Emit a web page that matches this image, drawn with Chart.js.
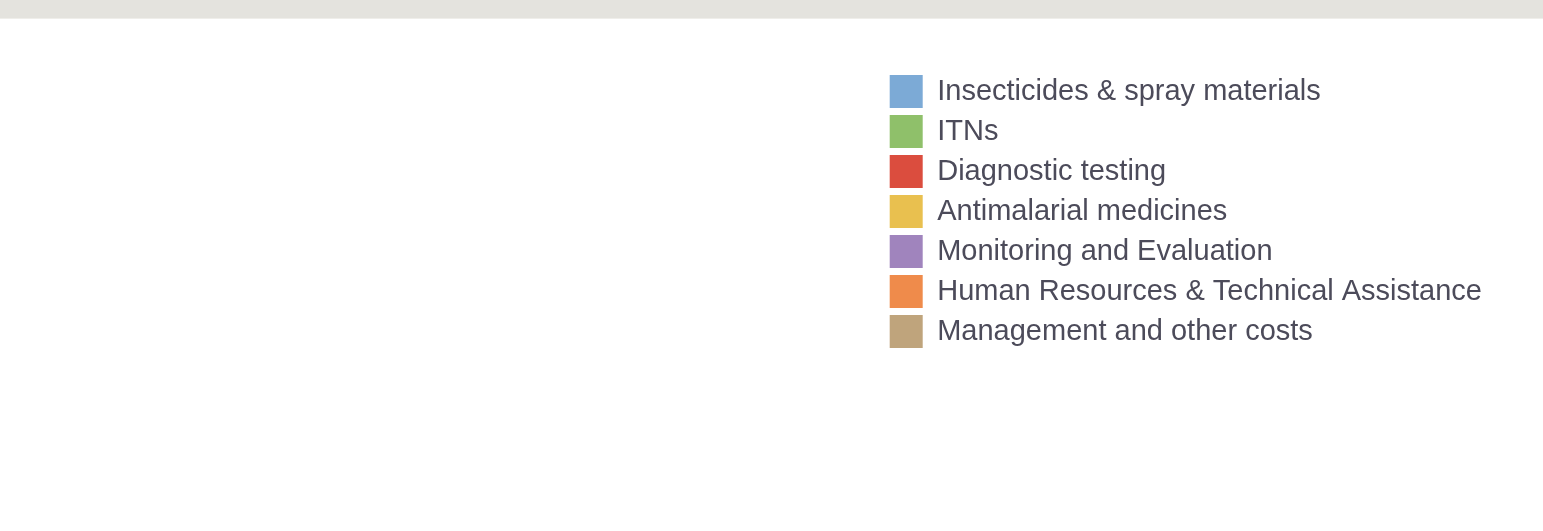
<!DOCTYPE html>
<html>
<head>
<meta charset="utf-8">
<script src="https://cdn.jsdelivr.net/npm/chart.js@4/dist/chart.umd.min.js"></script>
<style>
  html, body { margin: 0; padding: 0; background: #fff; }
  .topbar { height: 18px; background: #e4e3de; border-bottom: 1px solid #efeeea; }
  .wrap { position: relative; width: 1543px; height: 512px; }
</style>
</head>
<body>
<div class="topbar"></div>
<div class="wrap"><canvas id="costChart"></canvas></div>
<script>
/*------------------------------------
* Data
------------------------------------ */
var categories = [
  "Insecticides & spray materials",
  "ITNs",
  "Diagnostic testing",
  "Antimalarial medicines",
  "Monitoring and Evaluation",
  "Human Resources & Technical Assistance",
  "Management and other costs"
];
// the pie itself shows nothing, only the legend
var values = [0, 0, 0, 0, 0, 0, 0];
var colors = ["#7caad6", "#8fc06a", "#db4d3e", "#e9c04f", "#a084bd", "#ef8b4b", "#bfa47c"];

/*------------------------------------
* Chart
------------------------------------ */
var canvas = document.getElementById("costChart");
if (canvas) {
  var ChartC = new Chart(canvas, {
    type: "pie",
    data: {
      labels: categories,
      datasets: [
        {
          data: values,
          backgroundColor: colors,
          borderWidth: 0,
        },
      ],
    },
    options: {
      responsive: true,
      maintainAspectRatio: false,
      animation: false,
      layout: { padding: { top: 49, right: 51 } },
      plugins: {
        tooltip: { enabled: false },
        legend: {
          position: "right",
          align: "start",
          labels: {
            boxWidth: 33,
            boxHeight: 33,
            padding: 7,
            color: "#4c4b5a",
            font: { family: "'Liberation Sans', Arial, sans-serif", size: 29 },
          },
        },
      },
    },
  });
}
</script>
</body>
</html>
